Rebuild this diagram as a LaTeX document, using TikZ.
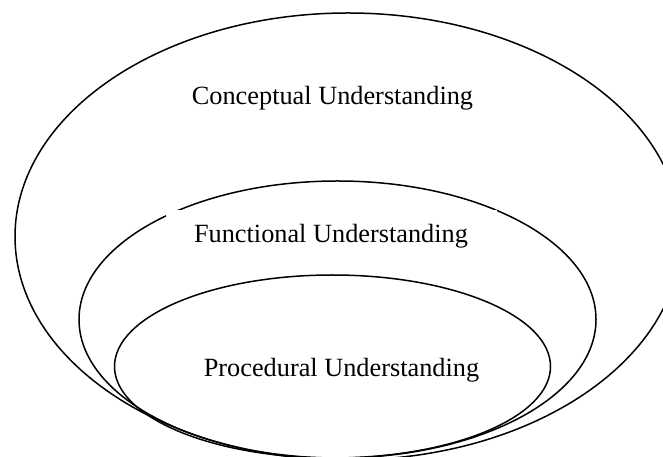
\documentclass[tikz,border=0pt]{standalone}
\usepackage{fontspec}
\setmainfont{Liberation Serif}

\begin{document}
\begin{tikzpicture}[x=1pt, y=1pt, line width=1.5pt,
    every node/.style={font=\fontsize{26.3}{30}\selectfont, inner sep=0pt}]
        \useasboundingbox (0,0) rectangle (663,457);
        \clip (0,0) rectangle (663,457);

        % Ellissi
        \draw (348,220.5) ellipse [x radius=333pt, y radius=223.5pt];
        \draw (337.5,137.5) ellipse [x radius=258.5pt, y radius=138.5pt];
        \draw (332.5,90.5) ellipse [x radius=218pt, y radius=91.5pt];

        % Etichette
        \node (C) at (332.5,352) [anchor=base] {Conceptual Understanding};
        \node (F) at (331,214) [anchor=base, fill=white, minimum width=331pt, text height=33pt, text depth=12pt] {Functional Understanding};
        \node (P) at (341.5,80) [anchor=base] {Procedural Understanding};
    \end{tikzpicture}
\end{document}
